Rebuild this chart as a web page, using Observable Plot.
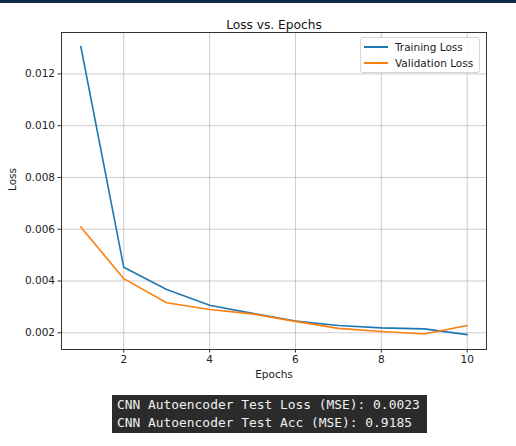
<!DOCTYPE html>
<html>
<head>
<meta charset="utf-8">
<script src="https://cdn.jsdelivr.net/npm/d3@7"></script>
<script src="https://cdn.jsdelivr.net/npm/@observablehq/plot@0.6"></script>
<style>
  html, body { margin: 0; padding: 0; background: #fff; }
  #wrap { position: relative; width: 516px; height: 446px; overflow: hidden; font-family: "DejaVu Sans", sans-serif; }
  #topbar { position: absolute; left: 0; top: 0; width: 516px; height: 3px; background: #0f2a4a; }
  #chart { position: absolute; left: 0; top: 0; }
  #legend { position: absolute; left: 360px; top: 37px; width: 120px; height: 36px; background: rgba(255,255,255,0.85); border: 1px solid #d6d6d6; border-radius: 3px; box-sizing: border-box; font-size: 10.5px; color: #222; }
  .lg { position: absolute; left: 3px; height: 16px; display: flex; align-items: center; }
  .lg span.sw { display: inline-block; width: 24px; height: 2px; margin-right: 7px; }
  #console { position: absolute; left: 112px; top: 395px; width: 315px; height: 38px; background: #2b2b2b; color: #f0f0f0; font-family: "DejaVu Sans Mono", monospace; font-size: 12.9px; line-height: 18px; padding: 1px 0 0 5px; box-sizing: border-box; white-space: pre; }
</style>
</head>
<body>
<div id="wrap">
  <div id="chart"></div>
  <div id="topbar"></div>
  <div id="legend"></div>
  <div id="console"></div>
</div>
<script>
const epochs = [1, 2, 3, 4, 5, 6, 7, 8, 9, 10];
const trainingLoss = [0.01306, 0.00453, 0.00367, 0.00306, 0.00275, 0.00245, 0.00228, 0.00219, 0.00215, 0.00193];
const validationLoss = [0.00609, 0.00409, 0.00316, 0.00290, 0.00273, 0.00244, 0.00217, 0.00205, 0.00195, 0.00228];
const seriesNames = ["Training Loss", "Validation Loss"];
const seriesColors = ["#1f77b4", "#ff7f0e"];
const xTicks = [2, 4, 6, 8, 10];
const yTicks = [0.002, 0.004, 0.006, 0.008, 0.010, 0.012];
const titleText = "Loss vs. Epochs";
const xLabel = "Epochs";
const yLabel = "Loss";
const consoleLines = ["CNN Autoencoder Test Loss (MSE): 0.0023", "CNN Autoencoder Test Acc (MSE): 0.9185"];

const rows = [];
epochs.forEach((e, i) => {
  rows.push({epoch: e, loss: trainingLoss[i], series: seriesNames[0]});
  rows.push({epoch: e, loss: validationLoss[i], series: seriesNames[1]});
});

const chart = Plot.plot({
  width: 516,
  height: 390,
  marginLeft: 61,
  marginRight: 30,
  marginTop: 32,
  marginBottom: 41,
  style: {fontFamily: "DejaVu Sans, sans-serif", fontSize: "10.5px", color: "#222", background: "transparent"},
  x: {domain: [0.55, 10.45], ticks: xTicks, label: null},
  y: {domain: [0.001354, 0.0136], ticks: yTicks, label: null, tickFormat: d3.format(".3f")},
  color: {domain: seriesNames, range: seriesColors},
  marks: [
    Plot.gridX(xTicks, {stroke: "#b0b0b0", strokeOpacity: 0.65, strokeWidth: 1}),
    Plot.gridY(yTicks, {stroke: "#b0b0b0", strokeOpacity: 0.65, strokeWidth: 1}),
    Plot.axisX(xTicks, {tickSize: 3.5, tickPadding: 3, fontSize: 10.5, stroke: "#333"}),
    Plot.axisY(yTicks, {tickSize: 3.5, tickPadding: 3, fontSize: 10.5, tickFormat: d3.format(".3f"), stroke: "#333"}),
    Plot.line(rows, {x: "epoch", y: "loss", stroke: "series", z: "series", strokeWidth: 1.6}),
    Plot.frame({stroke: "#333", strokeWidth: 1}),
    Plot.text([titleText], {frameAnchor: "top", dy: -12, text: d => d, fontSize: 12.2, fill: "#111"}),
    Plot.text([xLabel], {frameAnchor: "bottom", dy: 28, text: d => d, fontSize: 10.5, fill: "#222"}),
    Plot.text([yLabel], {frameAnchor: "left", dx: -49, rotate: -90, text: d => d, fontSize: 10.5, fill: "#222"})
  ]
});
document.getElementById("chart").appendChild(chart);

const legend = document.getElementById("legend");
seriesNames.forEach((name, i) => {
  const row = document.createElement("div");
  row.className = "lg";
  row.style.top = (1 + i * 16) + "px";
  const sw = document.createElement("span");
  sw.className = "sw";
  sw.style.background = seriesColors[i];
  const t = document.createElement("span");
  t.textContent = name;
  row.appendChild(sw);
  row.appendChild(t);
  legend.appendChild(row);
});

document.getElementById("console").textContent = consoleLines.join("\n");
</script>
</body>
</html>
